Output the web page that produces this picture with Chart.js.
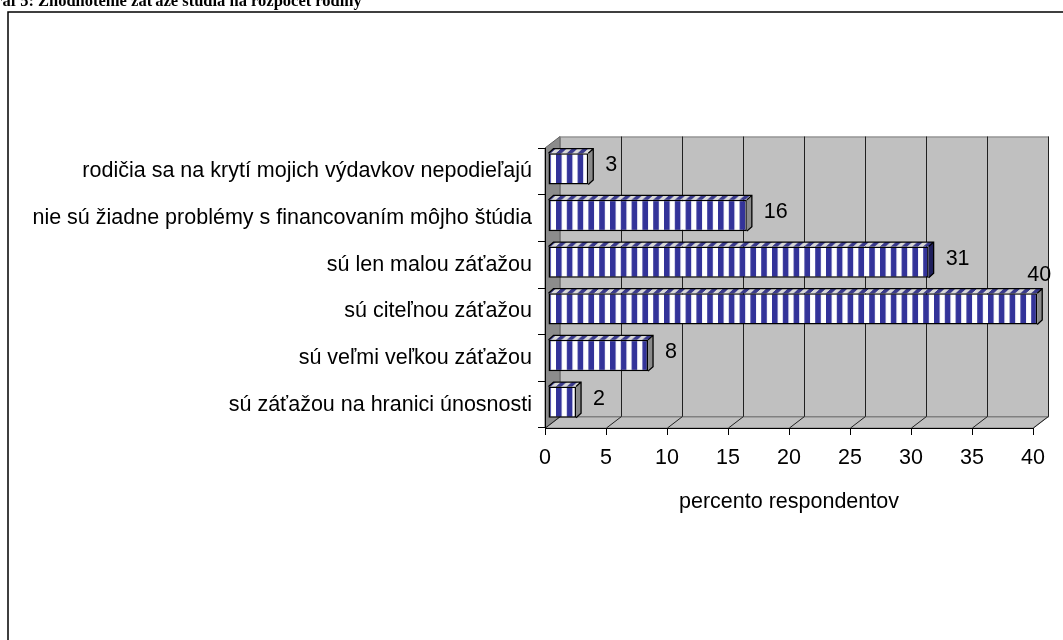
<!DOCTYPE html>
<html>
<head>
<meta charset="utf-8">
<script src="https://cdn.jsdelivr.net/npm/chart.js@4.4.0/dist/chart.umd.min.js"></script>
<style>
  body { margin: 0; background: #fff; }
  .wrap { position: relative; width: 1063px; height: 640px; overflow: hidden; }
  .wrap canvas { position: absolute; left: 0; top: 0; }
  .title {
    position: absolute;
    top: -8px;
    font: bold 16.5px "Liberation Serif", "Times New Roman", serif;
    line-height: 17px;
    white-space: nowrap;
    z-index: 2;
  }
</style>
</head>
<body>
<div class="wrap">
  <div class="title" style="right: 1029px">Graf 5:</div>
  <div class="title" style="left: 38px">Zhodnotenie záťaže štúdia na rozpočet rodiny</div>
  <canvas id="chart"></canvas>
</div>
<script>
const categories = [
  "rodičia sa na krytí mojich výdavkov nepodieľajú",
  "nie sú žiadne problémy s financovaním môjho štúdia",
  "sú len malou záťažou",
  "sú citeľnou záťažou",
  "sú veľmi veľkou záťažou",
  "sú záťažou na hranici únosnosti",
];
const values = [3.3, 16.3, 31.2, 40.1, 8.2, 2.3];
const axisTitle = "percento respondentov";

const FONT = "'Liberation Sans', Arial, sans-serif";
const FONT_SIZE = 21.5;
const ctx = document.getElementById("chart").getContext("2d");

// 3d offsets: walls depth and bar position / depth
const depth = { x: 15, y: -11.5 };
const shift = { x: 3, y: -2.5 };
const barDepth = { x: 5, y: -4.5 };

// vertical blue / white stripes, 10.8px period
const STRIPE = 10.8;
const STRIPE_START = 2.2;
const STRIPE_BLUE = 5.6;
function stripes(dark, light) {
  const c = document.createElement("canvas");
  c.width = 108;
  c.height = 4;
  const g = c.getContext("2d");
  g.fillStyle = light;
  g.fillRect(0, 0, 108, 4);
  g.fillStyle = dark;
  for (let i = 0; i < 10; i++) {
    g.fillRect(STRIPE_START + i * STRIPE, 0, STRIPE_BLUE, 4);
  }
  return ctx.createPattern(c, "repeat");
}
const frontPattern = stripes("#333399", "#ffffff");
const topPattern = stripes("#3a3a8c", "#d8d8d8");

// grey walls, floor and gridlines behind the bars
const walls = {
  id: "walls",
  beforeDraw(chart) {
    const { ctx, chartArea: a } = chart;
    const xs = chart.scales.x;
    ctx.save();

    // frame
    ctx.strokeStyle = "#000";
    ctx.lineWidth = 1.5;
    ctx.strokeRect(8, 12, 1300, 900);

    // back wall
    const bl = a.left + depth.x, br = a.right + depth.x;
    const bt = a.top + depth.y, bb = a.bottom + depth.y;
    ctx.fillStyle = "#c0c0c0";
    ctx.fillRect(bl, bt, br - bl, bb - bt);

    // floor
    ctx.beginPath();
    ctx.moveTo(a.left, a.bottom);
    ctx.lineTo(bl, bb);
    ctx.lineTo(br, bb);
    ctx.lineTo(a.right, a.bottom);
    ctx.closePath();
    ctx.fillStyle = "#c0c0c0";
    ctx.fill();
    ctx.strokeStyle = "#808080";
    ctx.lineWidth = 1;
    ctx.stroke();

    // left wall
    ctx.beginPath();
    ctx.moveTo(a.left, a.top);
    ctx.lineTo(bl, bt);
    ctx.lineTo(bl, bb);
    ctx.lineTo(a.left, a.bottom);
    ctx.closePath();
    ctx.fillStyle = "#8c8c8c";
    ctx.fill();
    ctx.strokeStyle = "#606060";
    ctx.stroke();

    // back wall outline
    ctx.strokeStyle = "#808080";
    ctx.strokeRect(bl + 0.5, bt + 0.5, br - bl, bb - bt);

    // gridlines on wall and floor
    ctx.strokeStyle = "#202020";
    xs.ticks.forEach((t) => {
      const px = Math.round(xs.getPixelForValue(t.value)) + 0.5;
      if (t.value > 0) {
        ctx.beginPath();
        ctx.moveTo(px + depth.x, bt);
        ctx.lineTo(px + depth.x, bb);
        ctx.stroke();
      }
      ctx.beginPath();
      ctx.moveTo(px, a.bottom);
      ctx.lineTo(px + depth.x, bb);
      ctx.stroke();
    });
    ctx.restore();
  },
};

// front faces are drawn by chart.js (shifted), top / side faces and labels here
const bars3d = {
  id: "bars3d",
  beforeDatasetsDraw(chart) {
    chart.ctx.save();
    chart.ctx.translate(shift.x, shift.y);
  },
  afterDatasetsDraw(chart) {
    const ctx = chart.ctx;
    ctx.restore();
    const meta = chart.getDatasetMeta(0);
    const k = barDepth.x / barDepth.y;

    meta.data.forEach((bar, i) => {
      const L = bar.base + shift.x;
      const R = bar.x + shift.x;
      const T = bar.y - bar.height / 2 + shift.y;
      const B = bar.y + bar.height / 2 + shift.y;

      // top face, stripes sheared along depth
      ctx.save();
      ctx.transform(1, 0, k, 1, shift.x - k * T, 0);
      ctx.fillStyle = topPattern;
      ctx.fillRect(bar.base, T + barDepth.y, bar.x - bar.base, -barDepth.y);
      ctx.restore();

      // side face colour follows the stripe at the bar end
      const phase = (((bar.x - STRIPE_START) % STRIPE) + STRIPE) % STRIPE;
      ctx.fillStyle = phase < STRIPE_BLUE ? "#1f1f5c" : "#8a8a8a";
      ctx.beginPath();
      ctx.moveTo(R, T);
      ctx.lineTo(R + barDepth.x, T + barDepth.y);
      ctx.lineTo(R + barDepth.x, B + barDepth.y);
      ctx.lineTo(R, B);
      ctx.closePath();
      ctx.fill();

      // outlines
      ctx.strokeStyle = "#000";
      ctx.lineWidth = 1.3;
      ctx.beginPath();
      ctx.moveTo(L, T);
      ctx.lineTo(L + barDepth.x, T + barDepth.y);
      ctx.lineTo(R + barDepth.x, T + barDepth.y);
      ctx.lineTo(R + barDepth.x, B + barDepth.y);
      ctx.lineTo(R, B);
      ctx.moveTo(R, T);
      ctx.lineTo(R + barDepth.x, T + barDepth.y);
      ctx.stroke();

      // value label
      const text = String(Math.round(values[i]));
      ctx.font = FONT_SIZE + "px " + FONT;
      ctx.fillStyle = "#000";
      const w = ctx.measureText(text).width;
      const lx = R + barDepth.x + 12;
      if (lx + w < chart.width - 10) {
        ctx.textAlign = "left";
        ctx.textBaseline = "middle";
        ctx.fillText(text, lx, bar.y + shift.y - 3.5);
      } else {
        ctx.textAlign = "center";
        ctx.textBaseline = "alphabetic";
        ctx.fillText(text, R + 2, T + barDepth.y - 8);
      }
    });
  },
};

Chart.defaults.color = "#000";
Chart.defaults.font.family = FONT;
Chart.defaults.font.size = FONT_SIZE;

const chart = new Chart(ctx, {
  type: "bar",
  data: {
    labels: categories,
    datasets: [
      {
        data: values,
        backgroundColor: frontPattern,
        borderColor: "#000",
        borderWidth: 1.5,
        borderSkipped: false,
        barPercentage: 0.67,
        categoryPercentage: 1,
        clip: false,
      },
    ],
  },
  options: {
    indexAxis: "y",
    responsive: true,
    maintainAspectRatio: false,
    animation: false,
    layout: {
      padding: { top: 148, right: 30, left: 0, bottom: 0 },
    },
    scales: {
      x: {
        min: 0,
        max: 40,
        ticks: { stepSize: 5, padding: 10 },
        grid: {
          drawOnChartArea: false,
          tickLength: 7,
          color: "#000",
        },
        border: { color: "#000" },
        title: {
          display: true,
          text: axisTitle,
          padding: { top: 0, bottom: 125 },
        },
        afterFit: (s) => {
          s.height = 212;
        },
      },
      y: {
        ticks: { padding: 6 },
        grid: {
          drawOnChartArea: false,
          tickLength: 7,
          color: "#000",
        },
        border: { color: "#000" },
        afterFit: (s) => {
          s.width = 545;
        },
      },
    },
    plugins: {
      legend: { display: false },
      tooltip: { enabled: false },
    },
  },
  plugins: [walls, bars3d],
});
</script>
</body>
</html>
